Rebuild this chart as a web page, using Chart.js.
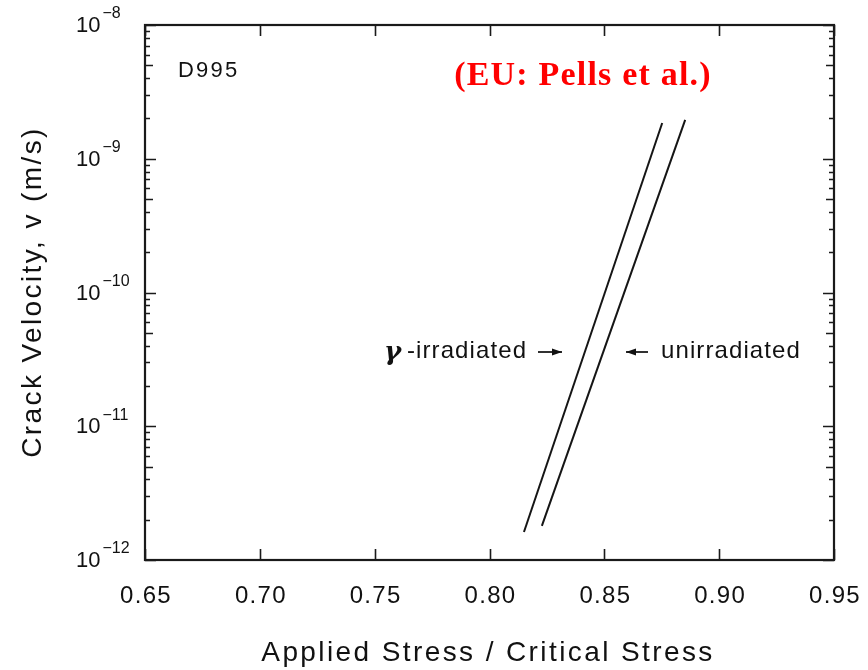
<!DOCTYPE html>
<html>
<head>
<meta charset="utf-8">
<script src="https://cdn.jsdelivr.net/npm/chart.js@4.4.1/dist/chart.umd.min.js"></script>
<style>
  html, body { margin: 0; padding: 0; background: #fff; }
  #wrap { width: 868px; height: 670px; }
</style>
</head>
<body>
<div id="wrap"><canvas id="c" width="868" height="670"></canvas></div>
<script>
// ---- data ----
const xTicks = [0.65, 0.70, 0.75, 0.80, 0.85, 0.90, 0.95];
const xTickLabels = ["0.65", "0.70", "0.75", "0.80", "0.85", "0.90", "0.95"];
const yTickExponents = [-12, -11, -10, -9, -8];
const irradiatedX = [0.815, 0.8752];
const irradiatedY = [1.62e-12, 1.85e-9];
const unirradiatedX = [0.8228, 0.8852];
const unirradiatedY = [1.8e-12, 1.95e-9];
const xTitle = "Applied Stress / Critical Stress";
const yTitle = "Crack Velocity, v (m/s)";
const sampleLabel = "D995";
const sourceLabel = "(EU: Pells et al.)";
const gammaSymbol = "γ";
const irradiatedLabel = " -irradiated";
const unirradiatedLabel = "unirradiated";

const toPts = (xs, ys) => xs.map((x, i) => ({ x: x, y: ys[i] }));

const decorPlugin = {
  id: 'decor',
  afterDatasetsDraw(chart) {
    const ctx = chart.ctx;
    const a = chart.chartArea;
    const xs = chart.scales.x, ys = chart.scales.y;
    ctx.save();
    ctx.strokeStyle = '#1a1a1a';
    ctx.fillStyle = '#1a1a1a';
    // frame
    ctx.lineWidth = 2.2;
    ctx.strokeRect(a.left, a.top, a.right - a.left, a.bottom - a.top);
    // x ticks (inward, bottom and top)
    ctx.lineWidth = 1.6;
    xTicks.forEach(v => {
      const px = Math.round(xs.getPixelForValue(v)) + 0.5;
      ctx.beginPath();
      ctx.moveTo(px, a.bottom); ctx.lineTo(px, a.bottom - 11);
      ctx.moveTo(px, a.top); ctx.lineTo(px, a.top + 11);
      ctx.stroke();
    });
    // y ticks (inward, left and right), log minor ticks
    yTickExponents.forEach((e, idx) => {
      const major = Math.pow(10, e);
      const py = Math.round(ys.getPixelForValue(major)) + 0.5;
      ctx.beginPath();
      ctx.moveTo(a.left, py); ctx.lineTo(a.left + 11, py);
      ctx.moveTo(a.right, py); ctx.lineTo(a.right - 11, py);
      ctx.stroke();
      if (idx < yTickExponents.length - 1) {
        for (let m = 2; m <= 9; m++) {
          const my = Math.round(ys.getPixelForValue(m * major)) + 0.5;
          const len = (m === 5) ? 8 : 5;
          ctx.beginPath();
          ctx.moveTo(a.left, my); ctx.lineTo(a.left + len, my);
          ctx.moveTo(a.right, my); ctx.lineTo(a.right - len, my);
          ctx.stroke();
        }
      }
    });
    // x tick labels
    ctx.fillStyle = '#111';
    ctx.font = '24px "Liberation Sans", Arial, sans-serif';
    ctx.letterSpacing = '1.3px';
    ctx.textAlign = 'center';
    ctx.textBaseline = 'middle';
    xTicks.forEach((v, i) => {
      ctx.fillText(xTickLabels[i], xs.getPixelForValue(v) + 1, a.bottom + 36);
    });
    // y tick labels 10^e
    ctx.letterSpacing = '0px';
    yTickExponents.forEach(e => {
      const py = ys.getPixelForValue(Math.pow(10, e));
      ctx.textAlign = 'left';
      ctx.font = '22px "Liberation Sans", Arial, sans-serif';
      ctx.fillText('10', 76, py + 1);
      const w = ctx.measureText('10').width;
      ctx.font = '16px "Liberation Sans", Arial, sans-serif';
      ctx.fillText('\u2212' + Math.abs(e), 76 + w + 2, py - 11);
    });
    // axis titles
    ctx.font = '28px "Liberation Sans", Arial, sans-serif';
    ctx.letterSpacing = '2.4px';
    ctx.textAlign = 'center';
    ctx.fillText(xTitle, 488, 653);
    ctx.save();
    ctx.translate(33, 292);
    ctx.rotate(-Math.PI / 2);
    ctx.fillText(yTitle, 0, 0);
    ctx.restore();
    // annotations
    ctx.font = '22px "Liberation Sans", Arial, sans-serif';
    ctx.letterSpacing = '2.2px';
    ctx.textAlign = 'left';
    ctx.fillText(sampleLabel, 178, 71);
    ctx.letterSpacing = '1.2px';
    ctx.fillStyle = '#ff0000';
    ctx.font = 'bold 34px "Liberation Serif", "Times New Roman", serif';
    ctx.textAlign = 'center';
    ctx.fillText(sourceLabel, 583, 76);
    ctx.fillStyle = '#111';
    ctx.textAlign = 'left';
    ctx.letterSpacing = '0px';
    ctx.font = 'italic bold 26px "DejaVu Serif", "Liberation Serif", serif';
    ctx.fillText(gammaSymbol, 384, 353);
    const gw = ctx.measureText(gammaSymbol).width;
    ctx.font = '24px "Liberation Sans", Arial, sans-serif';
    ctx.letterSpacing = '1.1px';
    ctx.fillText(irradiatedLabel, 384 + gw - 2, 351);
    ctx.fillText(unirradiatedLabel, 661, 351);
    ctx.letterSpacing = '0px';
    // arrows
    const arrow = (x1, x2, y) => {
      ctx.lineWidth = 1.8;
      ctx.beginPath(); ctx.moveTo(x1, y); ctx.lineTo(x2, y); ctx.stroke();
      const dir = x2 > x1 ? 1 : -1;
      ctx.beginPath();
      ctx.moveTo(x2, y);
      ctx.lineTo(x2 - dir * 10, y - 3.5);
      ctx.lineTo(x2 - dir * 10, y + 3.5);
      ctx.closePath(); ctx.fill();
    };
    arrow(538, 562, 352);
    arrow(648, 626, 352);
    ctx.restore();
  }
};

new Chart(document.getElementById('c'), {
  type: 'scatter',
  data: {
    datasets: [
      { label: 'γ-irradiated', data: toPts(irradiatedX, irradiatedY), showLine: true,
        borderColor: '#151515', borderWidth: 2, pointRadius: 0, tension: 0 },
      { label: 'unirradiated', data: toPts(unirradiatedX, unirradiatedY), showLine: true,
        borderColor: '#151515', borderWidth: 2, pointRadius: 0, tension: 0 }
    ]
  },
  options: {
    responsive: false,
    animation: false,
    layout: { padding: { left: 145, top: 25, right: 34, bottom: 110 } },
    plugins: { legend: { display: false }, tooltip: { enabled: false } },
    scales: {
      x: { type: 'linear', min: 0.65, max: 0.95, display: false },
      y: { type: 'logarithmic', min: 1e-12, max: 1e-8, display: false }
    }
  },
  plugins: [decorPlugin]
});
</script>
</body>
</html>
